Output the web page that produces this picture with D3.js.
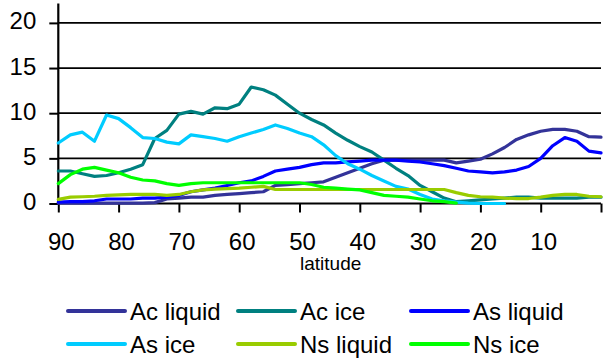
<!DOCTYPE html>
<html>
<head>
<meta charset="utf-8">
<script src="https://cdn.jsdelivr.net/npm/d3@7"></script>
<style>
  html, body { margin: 0; padding: 0; background: #fff; }
  svg { display: block; font-family: "Liberation Sans", Arial, sans-serif; }
</style>
</head>
<body>
<svg id="chart" width="603" height="360"></svg>
<script>
// Latitude categories (degrees), left to right
const latitudes = [90,88,86,84,82,80,78,76,74,72,70,68,66,64,62,60,58,56,54,52,50,48,46,44,42,40,38,36,34,32,30,28,26,24,22,20,18,16,14,12,10,8,6,4,2,0];

// Series values per latitude
const acLiquid = [0.05,0.05,0.05,0.05,0.05,0.05,0.05,0.05,0.1,0.5,0.6,0.7,0.7,0.9,1.0,1.1,1.2,1.3,2.0,2.1,2.2,2.3,2.4,2.9,3.4,3.9,4.4,4.8,4.8,4.8,4.8,4.8,4.8,4.5,4.7,4.9,5.5,6.2,7.1,7.6,8.0,8.2,8.2,8.0,7.4,7.35];
const acIce    = [3.6,3.6,3.3,3.0,3.1,3.4,3.8,4.3,7.2,8.1,9.9,10.2,9.9,10.6,10.5,11.0,12.9,12.6,12.0,11.0,10.0,9.3,8.7,7.8,7.0,6.3,5.7,4.8,3.9,3.1,2.0,1.3,0.6,0.2,0.3,0.4,0.5,0.6,0.7,0.7,0.6,0.6,0.6,0.6,0.7,0.7];
const asLiquid = [0.15,0.2,0.2,0.3,0.5,0.5,0.5,0.6,0.6,0.7,0.9,1.3,1.5,1.7,2.0,2.3,2.5,3.0,3.6,3.8,4.0,4.3,4.5,4.5,4.6,4.7,4.8,4.8,4.8,4.7,4.6,4.4,4.2,3.9,3.6,3.5,3.4,3.5,3.7,4.1,5.0,6.4,7.3,6.9,5.8,5.6];
const asIce    = [6.7,7.6,7.9,6.9,9.8,9.4,8.4,7.3,7.2,6.8,6.6,7.6,7.4,7.2,6.9,7.4,7.8,8.2,8.7,8.3,7.8,7.4,6.5,5.3,4.4,3.8,3.1,2.5,1.9,1.6,1.0,0.5,0.3,0.15,0.05,0,0,0,null,null,null,null,null,null,null,null];
const nsLiquid = [0.45,0.7,0.75,0.8,0.9,0.95,1.0,1.0,1.0,0.9,1.0,1.3,1.5,1.6,1.65,1.7,1.8,1.9,1.55,1.55,1.55,1.55,1.55,1.55,1.55,1.55,1.55,1.55,1.55,1.55,1.55,1.55,1.55,1.2,0.9,0.75,0.7,0.6,0.55,0.55,0.7,0.9,1.0,1.0,0.8,0.75];
const nsIce    = [2.2,3.2,3.8,4.0,3.7,3.4,2.9,2.6,2.5,2.2,2.0,2.2,2.3,2.3,2.3,2.3,2.3,2.3,2.3,2.3,2.3,2.1,1.8,1.7,1.6,1.5,1.2,0.9,0.8,0.7,0.5,0.3,0.2,0.05,null,null,null,null,null,null,null,null,null,null,null,null];

const seriesNames  = ["Ac liquid","Ac ice","As liquid","As ice","Ns liquid","Ns ice"];
const seriesColors = ["#333399","#008080","#0000FF","#00CCFF","#99CC00","#00FF00"];
const seriesValues = [acLiquid, acIce, asLiquid, asIce, nsLiquid, nsIce];

const xTickValues = [90,80,70,60,50,40,30,20,10];
const xTickMarks  = [90,80,70,60,50,40,30,20,10,0];
const yTickValues = [0,5,10,15,20];

const svg = d3.select("#chart");

const x = d3.scaleLinear().domain([90, 0]).range([58.3, 601]);
const y = d3.scaleLinear().domain([0, 20]).range([203.5, 22.9]);

// horizontal gridlines
svg.append("g")
  .selectAll("line")
  .data(yTickValues.filter(v => v > 0))
  .join("line")
  .attr("x1", x(90)).attr("x2", x(0))
  .attr("y1", d => y(d)).attr("y2", d => y(d))
  .attr("stroke", "#000").attr("stroke-width", 1.8);

// y axis
const yAxis = svg.append("g").attr("transform", `translate(${x(90)},0)`)
  .call(d3.axisLeft(y).tickValues(yTickValues).tickSize(9).tickPadding(13).tickFormat(d3.format("d")));
yAxis.select(".domain").remove();
yAxis.selectAll(".tick line").attr("stroke", "#000").attr("stroke-width", 2);
yAxis.selectAll(".tick text")
  .attr("font-size", 24).attr("fill", "#000")
  .attr("font-family", "Liberation Sans, Arial, sans-serif")
  .attr("dy", "0.25em");
svg.append("line")
  .attr("x1", x(90)).attr("x2", x(90))
  .attr("y1", 3.5).attr("y2", y(0) + 1)
  .attr("stroke", "#000").attr("stroke-width", 2.2);

// x axis
const xAxis = svg.append("g").attr("transform", `translate(0,${y(0)})`)
  .call(d3.axisBottom(x).tickValues(xTickMarks).tickSize(9).tickFormat(""));
xAxis.select(".domain").remove();
xAxis.selectAll(".tick line").attr("stroke", "#000").attr("stroke-width", 2);
svg.append("line")
  .attr("x1", x(90) - 1).attr("x2", x(0))
  .attr("y1", y(0)).attr("y2", y(0))
  .attr("stroke", "#000").attr("stroke-width", 2.2);

svg.append("g")
  .selectAll("text")
  .data(xTickValues)
  .join("text")
  .attr("x", d => x(d) + 3)
  .attr("y", 250)
  .attr("text-anchor", "middle")
  .attr("font-size", 24)
  .attr("fill", "#000")
  .text(d => d);

svg.append("text")
  .attr("x", (x(90) + x(0)) / 2 + 1)
  .attr("y", 269.5)
  .attr("text-anchor", "middle")
  .attr("font-size", 19)
  .attr("fill", "#000")
  .text("latitude");

// series lines
const line = d3.line()
  .defined(d => d.v !== null)
  .x(d => x(d.lat))
  .y(d => y(d.v));

svg.append("g")
  .selectAll("path")
  .data(seriesValues.map((vals, i) => ({
    color: seriesColors[i],
    points: latitudes.map((lat, j) => ({ lat, v: vals[j] }))
  })))
  .join("path")
  .attr("fill", "none")
  .attr("stroke", d => d.color)
  .attr("stroke-width", 3.2)
  .attr("stroke-linejoin", "round")
  .attr("stroke-linecap", "round")
  .attr("d", d => line(d.points));

// legend: three columns, two rows
const legendCols = [68, 238, 411];
const legendRows = [311, 344];
const legend = svg.append("g")
  .selectAll("g")
  .data(seriesNames.map((name, i) => ({ name, color: seriesColors[i], col: i % 3, row: Math.floor(i / 3) })))
  .join("g")
  .attr("transform", d => `translate(${legendCols[d.col]},${legendRows[d.row]})`);

legend.append("line")
  .attr("x1", 0).attr("x2", 57)
  .attr("y1", 0).attr("y2", 0)
  .attr("stroke", d => d.color)
  .attr("stroke-width", 4)
  .attr("stroke-linecap", "round");

legend.append("text")
  .attr("x", 62)
  .attr("y", 9)
  .attr("font-size", 24)
  .attr("fill", "#000")
  .text(d => d.name);
</script>
</body>
</html>
